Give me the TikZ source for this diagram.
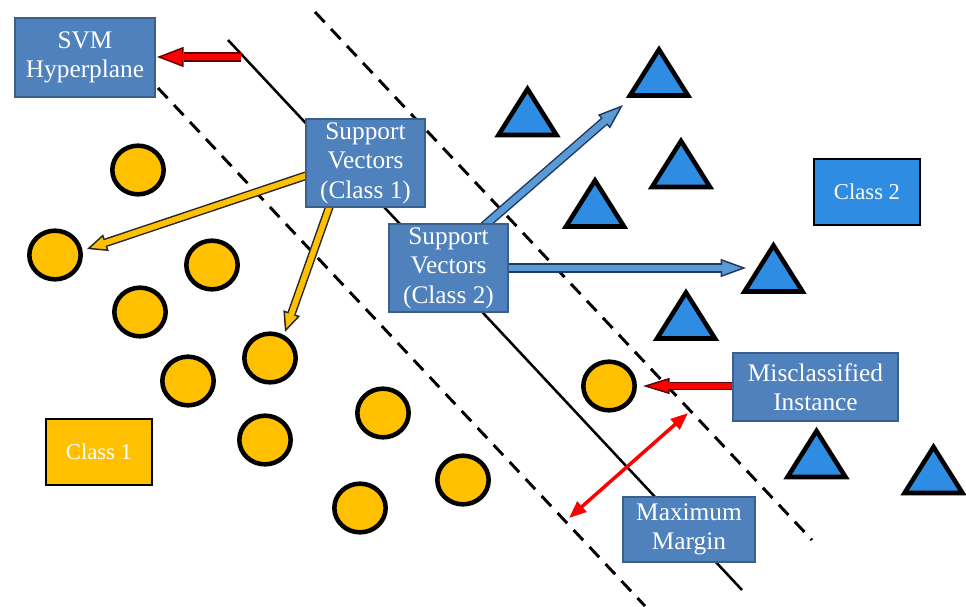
\documentclass[tikz,border=0pt]{standalone}
\usepackage{fontspec}
\setmainfont{Liberation Serif}
\usetikzlibrary{arrows.meta,shapes.geometric}
\definecolor{boxblue}{HTML}{4F81BD}
\definecolor{boxedge}{HTML}{3A5F8B}
\definecolor{triblue}{HTML}{2E8CE3}
\definecolor{orgc}{HTML}{FFC000}
\definecolor{arrblue}{HTML}{5B9BD5}
\definecolor{navy}{HTML}{1F3864}
\definecolor{darkred}{HTML}{600000}
\newcommand\blockarr[8]{%
  \draw[#2, line width=#3, shorten >=#5] #7 -- #8;
  \draw[#2, line width=0.4pt, -{Triangle[length=#5, width=#6, fill=#1, line width=1.1pt]}] #7 -- #8;
  \draw[#1, line width=#4, shorten >={#5-1.5pt}] #7 -- #8;
}
\tikzset{
  bluebox/.style={draw=boxedge, line width=1.1pt, fill=boxblue, text=white, align=center, inner sep=0pt,
    font=\fontsize{19}{22}\selectfont},
  classbox/.style={draw=black, line width=2pt, inner sep=0pt, minimum width=79.5pt, minimum height=49.5pt,
    font=\fontsize{17}{20}\selectfont},
  dot/.style={ellipse, draw=black, fill=orgc, line width=3.4pt, minimum width=38.5pt, minimum height=36.5pt, inner sep=0pt},
  tri/.pic={\draw[draw=black, fill=triblue, line width=3.4pt] (0,-23) -- (29,23) -- (-29,23) -- cycle;},
  dashline/.style={line width=2.2pt, dash pattern=on 10.5pt off 7pt},
}
\begin{document}
\begin{tikzpicture}[x=0.75pt, y=-0.75pt]
\useasboundingbox (0,0) rectangle (966,606);
% hyperplane and margins
\coordinate (h1) at (228,40);
\coordinate (h2) at (742,590);
\coordinate (l1) at (158,88);
\coordinate (l2) at (645,606);
\coordinate (r1) at (315,12);
\coordinate (r2) at (812,540);
\draw[line width=1.9pt] (h1) -- (h2);
\draw[dashline] (l1) -- (l2);
\draw[dashline] (r1) -- (r2);
% class 1 points
\node[dot] (c1) at (138,170) {};
\node[dot] (c2) at (55,255) {};
\node[dot] (c3) at (212,265) {};
\node[dot] (c4) at (140,312) {};
\node[dot] (c5) at (270,358) {};
\node[dot] (c6) at (188,381) {};
\node[dot] (c7) at (265,440) {};
\node[dot] (c8) at (383,413) {};
\node[dot] (c9) at (463,480) {};
\node[dot] (c10) at (360,508) {};
\node[dot] (c11) at (609,386) {};
% class 2 points
\pic at (527.5,112) {tri};
\pic at (659,72.5) {tri};
\pic at (681,164) {tri};
\pic at (595,203.5) {tri};
\pic at (686,315.5) {tri};
\pic at (773.5,268.5) {tri};
\pic at (816.5,454) {tri};
\pic at (933.5,470) {tri};
% arrow end points
\coordinate (svmS) at (241,57);
\coordinate (svmT) at (157,57);
\coordinate (oAS) at (308,175);
\coordinate (oAT) at (87,249);
\coordinate (oBS) at (330,205);
\coordinate (oBT) at (285,332);
\coordinate (bAS) at (484,226);
\coordinate (bAT) at (623,105);
\coordinate (bBS) at (506,268);
\coordinate (bBT) at (746,268);
\coordinate (misS) at (735,386);
\coordinate (misT) at (643,386);
\coordinate (mmA) at (569,518);
\coordinate (mmB) at (688,413);
% arrows
\blockarr{red}{darkred}{7pt}{4.8pt}{20pt}{15pt}{(svmS)}{(svmT)}
\blockarr{red}{darkred}{6pt}{3.8pt}{20pt}{12pt}{(misS)}{(misT)}
\blockarr{orgc}{black!85}{6.5pt}{4.3pt}{15pt}{13pt}{(oAS)}{(oAT)}
\blockarr{orgc}{black!85}{6.5pt}{4.3pt}{15pt}{13pt}{(oBS)}{(oBT)}
\blockarr{arrblue}{navy}{7pt}{4.8pt}{19pt}{13.5pt}{(bAS)}{(bAT)}
\blockarr{arrblue}{navy}{7pt}{4.8pt}{19pt}{13.5pt}{(bBS)}{(bBT)}
\draw[red, line width=2.6pt, {Triangle[length=13pt,width=10pt]}-{Triangle[length=13pt,width=10pt]}] (mmA) -- (mmB);
% boxes
\node[bluebox, minimum width=105pt, minimum height=59.25pt] (svm) at (85,57.5) {SVM\\Hyperplane};
\node[bluebox, minimum width=89.25pt, minimum height=66pt] (sv1) at (365.5,163) {Support\\Vectors\\(Class 1)};
\node[bluebox, minimum width=89.25pt, minimum height=66pt] (sv2) at (448.5,268) {Support\\Vectors\\(Class 2)};
\node[bluebox, minimum width=123.75pt, minimum height=51pt] (mis) at (815.5,387) {Misclassified\\Instance};
\node[bluebox, minimum width=99pt, minimum height=48.75pt] (mm) at (689,529.5) {Maximum\\Margin};
\node[classbox, fill=triblue, text=white] (cl2) at (867,192) {Class 2};
\node[classbox, fill=orgc, text=white] (cl1) at (99,452) {Class 1};
\end{tikzpicture}
\end{document}
